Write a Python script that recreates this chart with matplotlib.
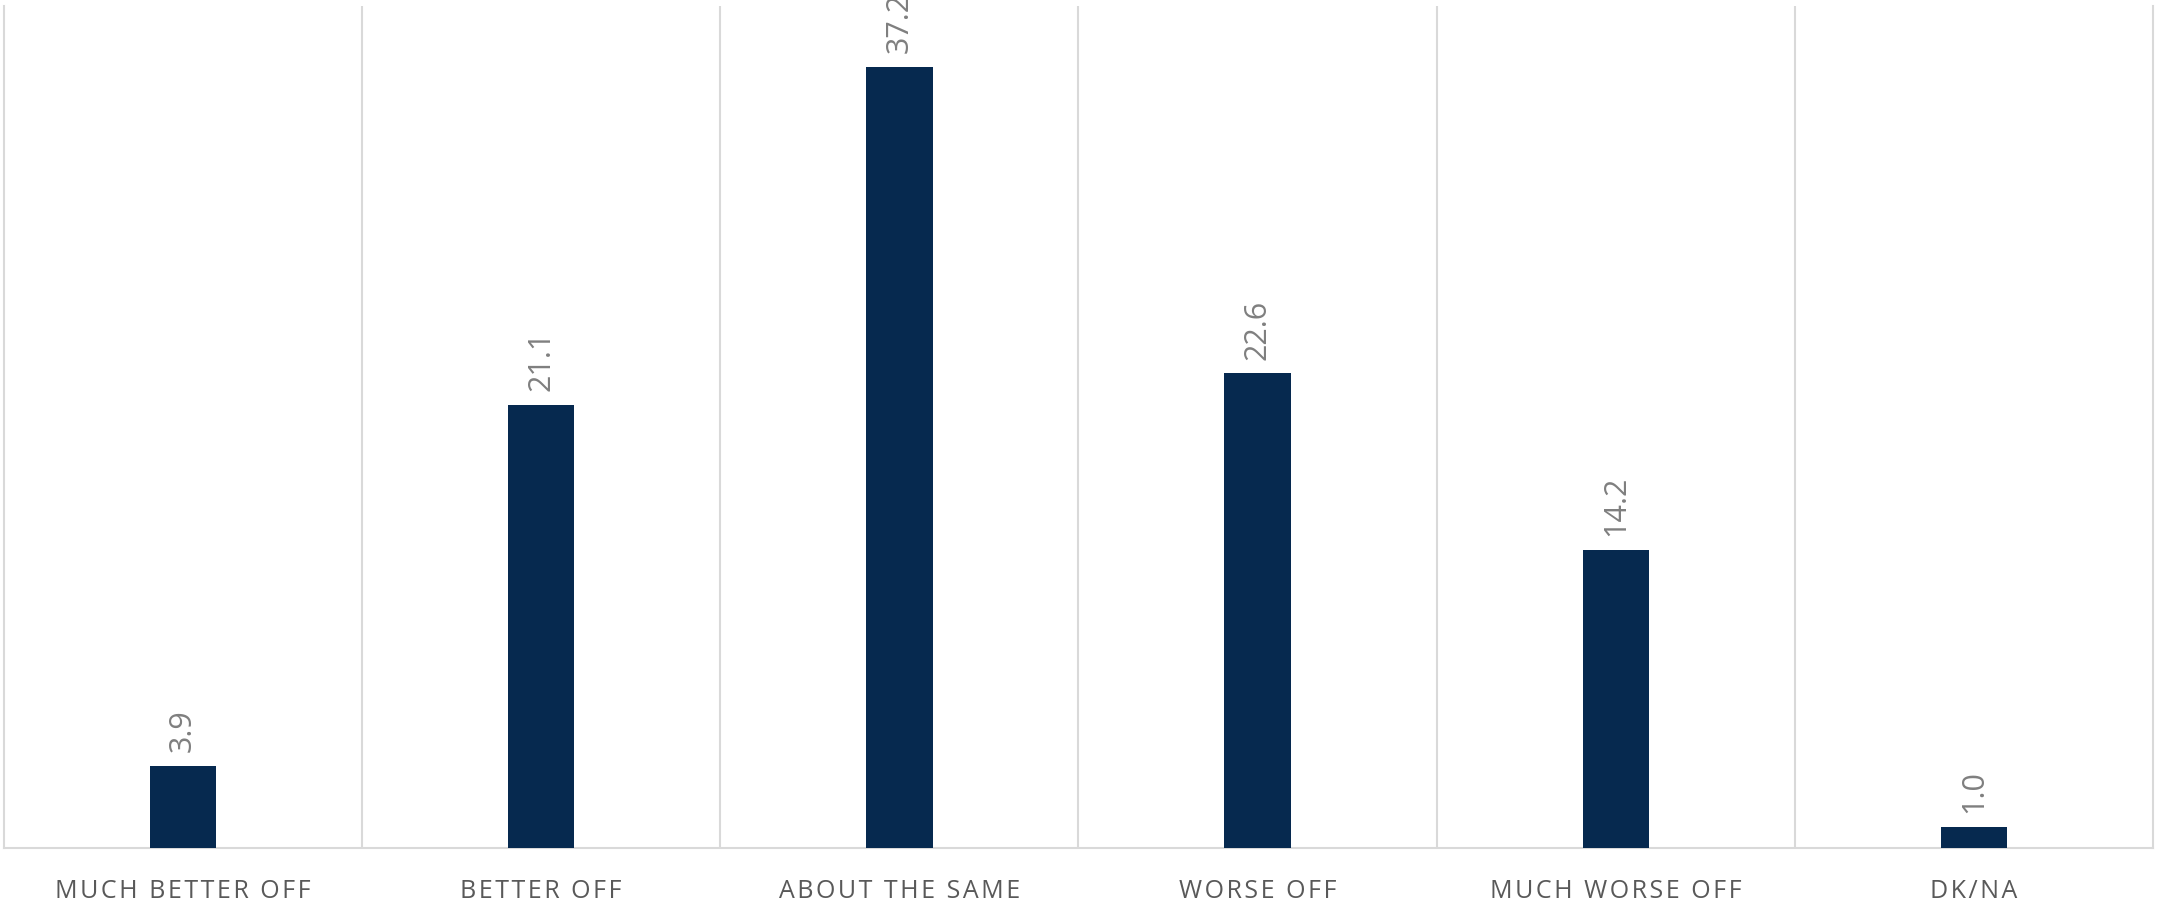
import numpy as np
import matplotlib.pyplot as plt

categories = ["MUCH BETTER OFF", "BETTER OFF", "ABOUT THE SAME", "WORSE OFF", "MUCH WORSE OFF", "DK/NA"]
values = [3.9, 21.1, 37.2, 22.6, 14.2, 1.0]

plt.rcParams['font.family'] = ['Open Sans', 'DejaVu Sans']

fig = plt.figure(figsize=(21.57, 9.01), dpi=100)
ax = fig.add_axes([4 / 2157, 1 - 848 / 901, (2153 - 4) / 2157, (848 - 6) / 901])

x = np.arange(len(categories))
bars = ax.bar(x, values, width=0.185, color="#06294f", zorder=3)

ax.set_xlim(-0.5, len(categories) - 0.5)
ax.set_ylim(0, 40.1)

# separators between categories
for b in np.arange(0.5, len(categories) - 0.5, 1):
    ax.axvline(b, color="#d9d9d9", lw=1.5, zorder=1)

ax.spines["top"].set_visible(False)
for s in ["left", "right", "bottom"]:
    ax.spines[s].set_color("#d9d9d9")
    ax.spines[s].set_linewidth(1.5)

ax.set_yticks([])
ax.set_xticks(x)
spaced = ["\u200a".join(list(c)) for c in categories]
ax.set_xticklabels(spaced, fontsize=18, color="#595959")
ax.tick_params(axis="x", length=0, pad=22)

for xi, v in zip(x, values):
    ax.annotate(f"{v:.1f}", (xi, v), xytext=(0, 10), textcoords="offset points",
                rotation=90, ha="center", va="bottom", fontsize=22, color="#7f7f7f",
                annotation_clip=False)

fig.savefig("out.png", dpi=100)
